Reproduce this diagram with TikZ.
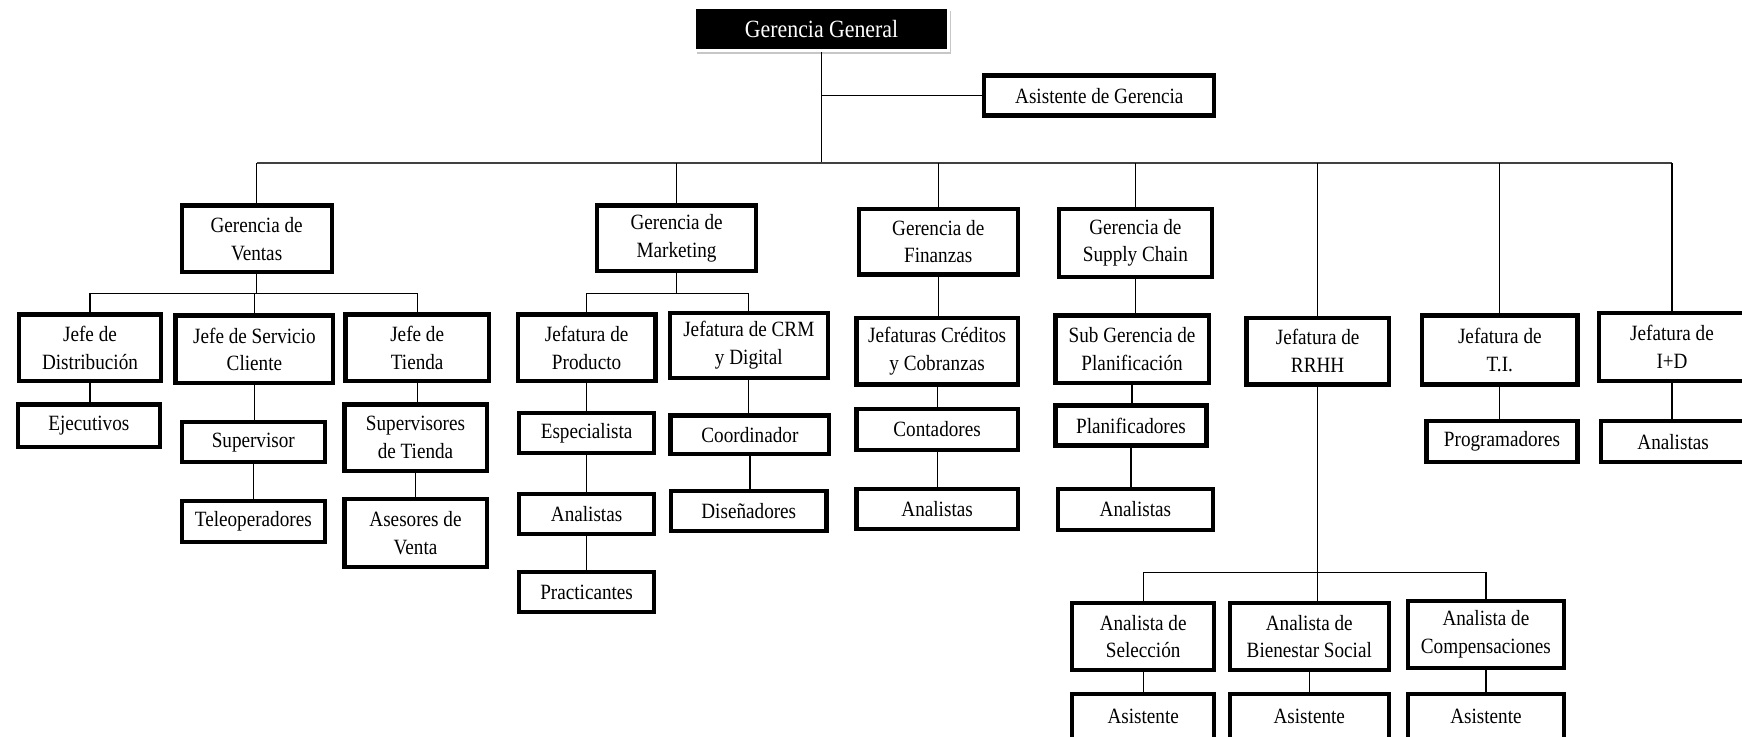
\documentclass[tikz,border=0pt]{standalone}
\usepackage{fontspec}
\setmainfont[FakeStretch=0.88]{Liberation Serif}
\usetikzlibrary{shadows}
\begin{document}
\begin{tikzpicture}[x=0.5556pt,y=-0.5556pt,
  box/.style={draw, line width=2.1pt, fill=white, align=center, inner sep=1pt,
    font=\fontsize{10.9}{13.9}\selectfont},
  b/.style 2 args={box, minimum width=(#1-4)*0.5556pt, minimum height=(#2-4)*0.5556pt},
  ggbox/.style={fill=black, draw=white, line width=1.6pt, text=white, inner sep=1pt,
    minimum width=229*0.5556pt, minimum height=39*0.5556pt,
    font=\fontsize{12.4}{14}\selectfont,
    drop shadow={shadow xshift=1.3pt, shadow yshift=-1.8pt, fill=black!40, opacity=0.55}},
  ln/.style={line width=0.6pt, black},
  busln/.style={line width=0.9pt, black!75},
]
\useasboundingbox (0,0) rectangle (1568,663);

% top
\node[ggbox] (gg) at (739.5,26) {Gerencia General};
\node[b={211}{40}] (ag) at (989.5,86) {Asistente de Gerencia};

% level 1
\node[b={139}{64}] (ven) at (231,215) {Gerencia de\\Ventas};
\node[b={147}{63}] (mkt) at (609,214.5) {Gerencia de\\Marketing};
\node[b={147}{63}] (fin) at (844.5,217.5) {Gerencia de\\Finanzas};
\node[b={142}{65}] (sup) at (1022,218.5) {Gerencia de\\Supply Chain};
\node[b={132}{64}] (rh) at (1186,316) {Jefatura de\\RRHH};
\node[b={144}{66}] (ti) at (1350,315) {Jefatura de\\T.I.};
\node[b={136}{65}] (id) at (1505,312.5) {Jefatura de\\I+D};

% ventas
\node[b={132}{64}] (jd) at (81,313) {Jefe de\\Distribución};
\node[b={146}{65}] (jsc) at (229,314.5) {Jefe de Servicio\\Cliente};
\node[b={133}{64}] (jt) at (375.5,313) {Jefe de\\Tienda};
\node[b={132}{42}] (eje) at (80,383) {Ejecutivos};
\node[b={133}{40}] (spv) at (228,398) {Supervisor};
\node[b={133}{41}] (tel) at (228,469.5) {Teleoperadores};
\node[b={132}{64}] (spt) at (374,394) {Supervisores\\de Tienda};
\node[b={132}{65}] (ase) at (374,479.5) {Asesores de\\Venta};

% marketing
\node[b={128}{64}] (jp) at (528,313) {Jefatura de\\Producto};
\node[b={146}{62}] (crm) at (674,311) {Jefatura de CRM\\y Digital};
\node[b={126}{40}] (esp) at (528,390) {Especialista};
\node[b={125}{40}] (anm) at (528,463) {Analistas};
\node[b={125}{40}] (pra) at (528,533) {Practicantes};
\node[b={147}{39}] (coo) at (675,391.5) {Coordinador};
\node[b={144}{40}] (dis) at (674,460) {Diseñadores};

% finanzas
\node[b={149}{64}] (jcc) at (843.5,316) {Jefaturas Créditos\\y Cobranzas};
\node[b={149}{41}] (con) at (843.5,386.5) {Contadores};
\node[b={149}{40}] (anf) at (843.5,458) {Analistas};

% supply chain
\node[b={142}{65}] (sgp) at (1019,314.5) {Sub Gerencia de\\Planificación};
\node[b={140}{40}] (pla) at (1018,383) {Planificadores};
\node[b={143}{41}] (ans) at (1022,458.5) {Analistas};

% rrhh
\node[b={132}{64}] (asl) at (1029,573) {Analista de\\Selección};
\node[b={147}{64}] (abs) at (1178.5,573) {Analista de\\Bienestar Social};
\node[b={145}{64}] (acm) at (1337.5,571) {Analista de\\Compensaciones};
\node[b={132}{44}] (as1) at (1029,645) {Asistente};
\node[b={147}{44}] (as2) at (1178.5,645) {Asistente};
\node[b={145}{44}] (as3) at (1337.5,645) {Asistente};

% ti, i+d
\node[b={140}{41}] (pro) at (1352,397.5) {Programadores};
\node[b={134}{41}] (anid) at (1506,397.5) {Analistas};

% bus coordinates
\coordinate (bus) at (0,147);
\coordinate (vbus) at (0,264);
\coordinate (rbus) at (0,515);

% connectors: top
\draw[ln] (gg.south) -- (gg.south |- bus);
\draw[ln] (ag.west) -- (ag.west -| gg.south);
\draw[busln] (ven.north |- bus) -- (id.north |- bus);
\foreach \n in {ven,mkt,fin,sup,rh,ti,id}
  \draw[ln] (\n.north) -- (\n.north |- bus);

% ventas
\draw[ln] (ven.south) -- (ven.south |- vbus);
\draw[ln] (jd.north) -- (jd.north |- vbus) -- (jt.north |- vbus) -- (jt.north);
\draw[ln] (jsc.north) -- (jsc.north |- vbus);
\draw[ln] (jd.south) -- (jd.south |- eje.north);
\draw[ln] (jsc.south) -- (jsc.south |- spv.north);
\draw[ln] (spv.south) -- (spv.south |- tel.north);
\draw[ln] (jt.south) -- (jt.south |- spt.north);
\draw[ln] (spt.south) -- (spt.south |- ase.north);

% marketing
\draw[ln] (mkt.south) -- (mkt.south |- vbus);
\draw[ln] (jp.north) -- (jp.north |- vbus) -- (crm.north |- vbus) -- (crm.north);
\draw[ln] (jp.south) -- (jp.south |- esp.north);
\draw[ln] (esp.south) -- (esp.south |- anm.north);
\draw[ln] (anm.south) -- (anm.south |- pra.north);
\draw[ln] (crm.south) -- (crm.south |- coo.north);
\draw[ln] (coo.south) -- (coo.south |- dis.north);

% finanzas
\draw[ln] (fin.south) -- (fin.south |- jcc.north);
\draw[ln] (jcc.south) -- (jcc.south |- con.north);
\draw[ln] (con.south) -- (con.south |- anf.north);

% supply chain
\draw[ln] (sup.south) -- (sup.south |- sgp.north);
\draw[ln] (sgp.south) -- (sgp.south |- pla.north);
\draw[ln] (pla.south) -- (pla.south |- ans.north);

% rrhh
\draw[ln] (rh.south) -- (rh.south |- abs.north);
\draw[ln] (asl.north) -- (asl.north |- rbus) -- (acm.north |- rbus) -- (acm.north);
\draw[ln] (asl.south) -- (asl.south |- as1.north);
\draw[ln] (abs.south) -- (abs.south |- as2.north);
\draw[ln] (acm.south) -- (acm.south |- as3.north);

% ti, i+d
\draw[ln] (ti.south) -- (ti.south |- pro.north);
\draw[ln] (id.south) -- (id.south |- anid.north);
\end{tikzpicture}
\end{document}
